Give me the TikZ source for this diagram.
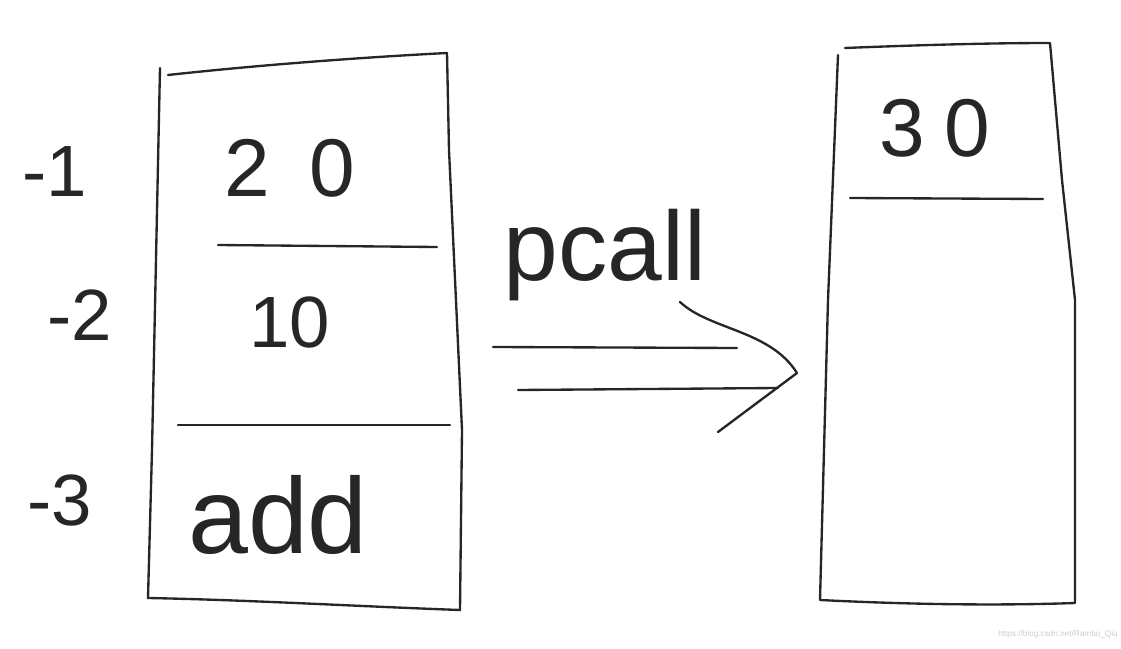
\documentclass[tikz,border=0pt]{standalone}
\usepackage{fontspec}
\setmainfont{Liberation Sans}
\usepackage{tikz}
\usetikzlibrary{positioning}

\tikzset{
  pen/.style={line width=2pt, line cap=round, line join=round, black!85},
  hand/.style={font=\fontsize{62}{64}\selectfont, text=black!85, inner sep=0pt},
}

\begin{document}
\begin{tikzpicture}[x=0.03cm, y=-0.03cm]
\useasboundingbox (0,0) rectangle (1121,649);

% left stack
\draw [pen] (168,75) .. controls (250,66) and (350,58) .. (447,53) -- (449,150) -- (462,430) -- (460,610)
  .. controls (350,606) and (250,600) .. (148,598) -- (152,450) -- (160,68);
\draw [pen] (218,245) -- (437,247);
\draw [pen] (178,425) -- (450,425);

\node (idxa) [hand] at (55,172) {-1};
\node (idxb) [hand] at (80,315) {-2};
\node (idxc) [hand] at (60,500) {-3};

\node (vala) [hand, font=\fontsize{70}{72}\selectfont] at (290,168) {2\hspace{1.2cm}0};
\node (valb) [hand] at (290,322) {10};
\node (func) [hand, font=\fontsize{92}{94}\selectfont] at (278,515) {add};

% arrow
\node (pcall) [hand, font=\fontsize{84}{86}\selectfont] at (605,255) {pcall};
\coordinate (up1) at (493,347);
\coordinate (up2) at (737,348);
\coordinate (lo1) at (518,390);
\coordinate (lo2) at (778,388);
\coordinate (tip) at (797,373);
\draw [pen] (up1) -- (up2);
\draw [pen] (lo1) -- (lo2);
\draw [pen] (680,302) .. controls (710,330) and (770,330) .. (tip) -- (718,432);

% right stack
\draw [pen] (845,48) .. controls (920,45) and (990,43) .. (1050,43) -- (1062,180) -- (1075,300) -- (1075,603)
  .. controls (990,606) and (900,604) .. (820,600) -- (828,300) -- (838,55);
\draw [pen] (850,198) -- (1043,199);
\node (top) [hand, font=\fontsize{70}{72}\selectfont] at (935,128) {3\hspace{0.6cm}0};

\node (mark) [font=\fontsize{7}{8}\selectfont, text=black!20] at (1058,634) {https://blog.csdn.net/Rambo\_Qiu};
\end{tikzpicture}
\end{document}
